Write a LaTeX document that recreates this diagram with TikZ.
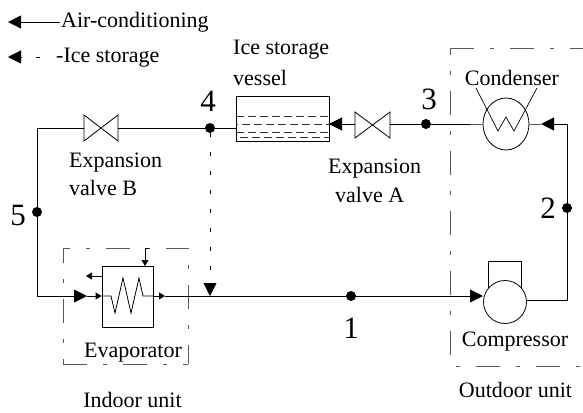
\documentclass[tikz,border=0pt]{standalone}
\usepackage{fontspec}
\setmainfont{Liberation Serif}
\usetikzlibrary{arrows.meta,shapes.geometric}
\tikzset{
  wire/.style={line width=0.9pt,black},
  thin wire/.style={line width=0.7pt,black},
  big tip/.style={-{Triangle[length=13pt,width=13pt]}},
  small tip/.style={-{Triangle[length=6pt,width=7pt]}},
  unit box/.style={line width=1pt,black!65,dash pattern=on 24pt off 16pt on 4pt off 16pt},
  ice line/.style={line width=0.8pt,black,dash pattern=on 4pt off 15pt},
  water/.style={line width=0.7pt,black!80,dash pattern=on 8pt off 4pt},
  label/.style={inner sep=0pt,anchor=base,font=\fontsize{22}{26}\selectfont},
  left label/.style={label,anchor=base west},
  number/.style={inner sep=0pt,font=\fontsize{31}{36}\selectfont},
  dot/.style={circle,fill=black,inner sep=0pt,minimum size=10pt},
  equip/.style={draw,line width=0.8pt,fill=white,inner sep=0pt},
}
\begin{document}
\begin{tikzpicture}[x=1pt,y=-1pt]
\useasboundingbox (0,0) rectangle (583,412);
% unit frames
\draw[unit box] (450,49) -- (583,49);
\draw[unit box,dash phase=18pt] (450,49) -- (450,355);
\draw[unit box,dash phase=34pt] (450,366) -- (581,366);
\draw[unit box,dash phase=17pt] (63,248) -- (188,248);
\draw[unit box,dash phase=9pt] (63,248) -- (63,364);
\draw[unit box] (63,364) -- (188,364);
\draw[unit box,dash phase=23pt] (188,248) -- (188,364);
% equipment
\node[equip,minimum width=51pt,minimum height=61pt] (evap) at (127.5,296.5) {};
\node[equip,minimum width=93pt,minimum height=45pt] (vessel) at (282.5,118.5) {};
\node[equip,ellipse,minimum width=46pt,minimum height=52pt] (cond) at (506,124) {};
\draw[line width=0.8pt] (488,288) -- (488,261) -- (521,261) -- (521,288);
\node[equip,circle,minimum size=43pt] (comp) at (505,302) {};
% coordinates
\coordinate (lb1) at (37,128);
\coordinate (lb2) at (37,296);
\coordinate (vbl) at (84,128);
\coordinate (vbr) at (118,128);
\coordinate (val) at (355,124);
\coordinate (var) at (390,124);
\coordinate (rt1) at (567,124);
\coordinate (rt2) at (567,300);
\node[dot] (n4) at (210,128) {};
\node[dot] (n3) at (426,124) {};
\node[dot] (n5) at (37,212) {};
\node[dot] (n2) at (567,208) {};
\node[dot] (n1) at (351,296) {};
% vessel water
\draw[water] (236,116) -- (329,116);
\draw[water,dash phase=6pt] (236,124) -- (329,124);
\draw[water] (236,132) -- (329,132);
\draw[water] (240,137) -- (329,137);
% circuit
\draw[wire] (vbl) -- (lb1) -- (lb2);
\draw[wire] (vbr) -- (n4) -- (vessel.west|-n4);
\coordinate (ta) at (329,124);
\draw[wire,big tip] (val) -- (ta);
\draw[wire] (var) -- (n3) -- (470,124);
\draw[line width=1pt,black!65] (470,124) -- (cond.west);
\draw[line width=1pt,black!65] (cond.east) -- (541,124);
\coordinate (tc) at (541,124);
\draw[wire,big tip] (rt1) -- (tc);
\draw[wire] (comp.east|-rt2) -- (rt2) -- (n2) -- (rt1);
% valves
\draw[line width=0.8pt] (84,115) -- (118,141) -- (118,115) -- (84,141) -- cycle;
\draw[line width=0.8pt] (355,112) -- (390,138) -- (390,112) -- (355,138) -- cycle;
% condenser coil
\draw[line width=0.7pt] (476,88) -- (498,131) -- (506,117) -- (514,131) -- (537,88);
% evaporator side
\coordinate (ae) at (87,296);
\draw[wire,big tip] (lb2) -- (ae);
\coordinate (ewl) at (evap.west|-ae);
\draw[wire,small tip] (ae) -- (ewl);
\draw[line width=0.8pt] (ewl) -- (111,296) -- (115,313) -- (123,278) -- (131,313) -- (139,278) -- (143,296) -- (153,296);
\coordinate (am) at (210,296);
\coordinate (ac) at (483,296);
\coordinate (as) at (165,296);
\draw[wire,small tip] (evap.east|-ae) -- (as);
\draw[wire,big tip] (as) -- (n1) -- (ac);
\coordinate (ol) at (86,276);
\draw[thin wire,small tip] (evap.west|-ol) -- (ol);
\coordinate (it) at (149,248);
\draw[thin wire,small tip] (it) -- (145,248) -- (145,266);
% ice-storage branch
\coordinate (bi) at (210,283);
\draw[ice line] (n4) -- (bi);
\draw[wire,big tip] (bi) -- (am);
% legend
\coordinate (l1a) at (60,22);
\coordinate (l1b) at (8,22);
\draw[wire,big tip] (l1a) -- (l1b);
\coordinate (l2a) at (21,57);
\coordinate (l2b) at (8,57);
\draw[wire,big tip] (l2a) -- (l2b);
\coordinate (l2c) at (36,57);
\coordinate (l2d) at (40,57);
\draw[line width=0.7pt] (l2c) -- (l2d);
% texts
\node[left label] (t1) at (61,28) {Air-conditioning};
\node[left label] (t2) at (56,63) {-Ice storage};
\node[left label] (t3) at (233,55) {Ice storage};
\node[left label] (t4) at (233,85) {vessel};
\node[left label] (t5) at (69,167) {Expansion};
\node[left label] (t6) at (69,195) {valve B};
\node[left label] (t7) at (328,173) {Expansion};
\node[left label] (t8) at (335,202) {valve A};
\node[label] (t9) at (512,85) {Condenser};
\node[label] (t10) at (515,346) {Compressor};
\node[label] (t11) at (133,357) {Evaporator};
\node[label] (t12) at (515.5,397) {Outdoor unit};
\node[label] (t13) at (132.5,407.5) {Indoor unit};
\node[number] (d4) at (208,101) {4};
\node[number] (d3) at (429,99) {3};
\node[number] (d5) at (18,215) {5};
\node[number] (d2) at (548,208) {2};
\node[number] (d1) at (351,328) {1};
\end{tikzpicture}
\end{document}
